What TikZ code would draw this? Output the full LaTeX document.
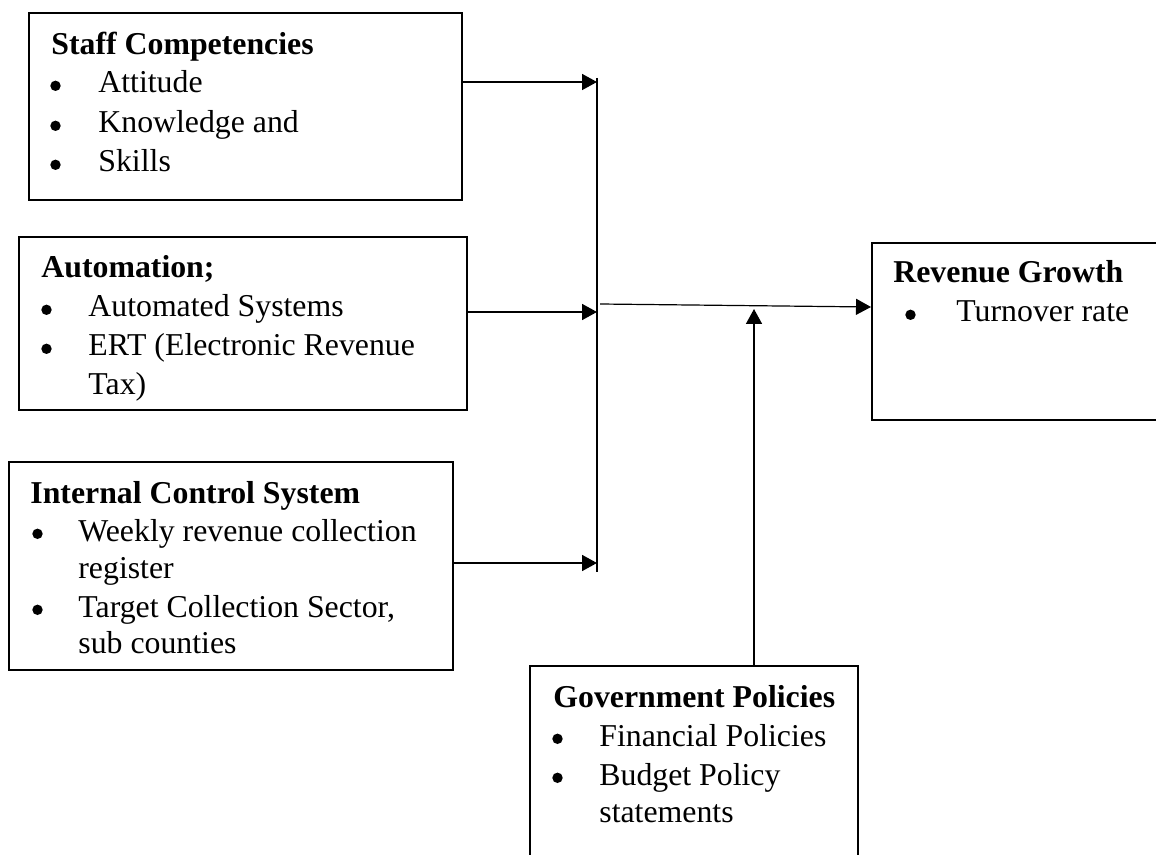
\documentclass[tikz,border=0pt]{standalone}
\usepackage{fontspec}
\setmainfont{Liberation Serif}
\usetikzlibrary{arrows.meta,fit}
\begin{document}
\begin{tikzpicture}[x=0.5pt,y=-0.5pt,
  box/.style={draw, line width=1pt, inner sep=0pt},
  txt/.style={anchor=base west, inner sep=0pt, font=\fontsize{15.9}{19.25}\selectfont},
  ttl/.style={txt, font=\fontsize{15.9}{19.25}\selectfont\bfseries},
  dot/.style={fill=black},
  link/.style={line width=0.8pt, -{Triangle[length=7.5pt,width=8pt]}},
  thinlink/.style={line width=0.6pt, -{Triangle[length=7.5pt,width=8pt]}},
  bus/.style={line width=0.8pt},
]
\useasboundingbox (0,0) rectangle (1156,855);
\clip (0,0) rectangle (1156,855);

% ---- boxes ----
\node[box, fit={(29,13) (462,200)}] (staff) {};
\node[box, fit={(19,237) (467,410)}] (auto) {};
\node[box, fit={(9,462) (453,670)}] (ics) {};
\node[box, fit={(872,243) (1175,420)}] (rev) {};
\node[box, fit={(530,666) (858,875)}] (gov) {};

% ---- box texts ----
\node[ttl] (s0) at (51,55) {Staff Competencies};
\node[txt] (s1) at (98,93) {Attitude};
\node[txt] (s2) at (98,133) {Knowledge and};
\node[txt] (s3) at (98,172) {Skills};

\node[ttl] (a0) at (41,278) {Automation;};
\node[txt] (a1) at (88,317) {Automated Systems};
\node[txt] (a2) at (88,356) {ERT (Electronic Revenue};
\node[txt] (a3) at (88,394) {Tax)};

\node[ttl] (i0) at (30,503) {Internal Control System};
\node[txt] (i1) at (78,541) {Weekly revenue collection};
\node[txt] (i2) at (78,578) {register};
\node[txt] (i3) at (78,617) {Target Collection Sector,};
\node[txt] (i4) at (78,653) {sub counties};

\node[ttl] (r0) at (893,283) {Revenue Growth};
\node[txt] (r1) at (956,322) {Turnover rate};

\node[ttl] (g0) at (553,707) {Government Policies};
\node[txt] (g1) at (599,746) {Financial Policies};
\node[txt] (g2) at (599,785) {Budget Policy};
\node[txt] (g3) at (599,822) {statements};

% ---- list bullets ----
\foreach \n in {s1,s2,s3}
  \fill[dot] ([xshift=-21.25pt,yshift=3.6pt]\n.base west) circle[radius=2.6pt];
\foreach \n in {a1,a2}
  \fill[dot] ([xshift=-20.75pt,yshift=3.6pt]\n.base west) circle[radius=2.6pt];
\foreach \n in {i1,i3}
  \fill[dot] ([xshift=-20.25pt,yshift=3.6pt]\n.base west) circle[radius=2.6pt];
\foreach \n in {g1,g2}
  \fill[dot] ([xshift=-20.75pt,yshift=3.6pt]\n.base west) circle[radius=2.6pt];
\fill[dot] ([xshift=-22.75pt,yshift=3.6pt]r1.base west) circle[radius=2.6pt];

% ---- connectors ----
\coordinate (bt) at (597,78);
\coordinate (bb) at (597,572);
\draw[bus] (bt) -- (bb);

\coordinate (t1) at (597,82);
\coordinate (t2) at (597,312);
\coordinate (t3) at (597,563);
\draw[link] (staff.east |- t1) -- (t1);
\draw[link] (auto.east |- t2) -- (t2);
\draw[link] (ics.east |- t3) -- (t3);

\coordinate (m0) at (600,304);
\coordinate (m1) at (872,307);
\draw[thinlink] (m0) -- (rev.west |- m1);

\coordinate (gt) at (754,309);
\draw[link] (gt |- gov.north) -- (gt);
\end{tikzpicture}
\end{document}
